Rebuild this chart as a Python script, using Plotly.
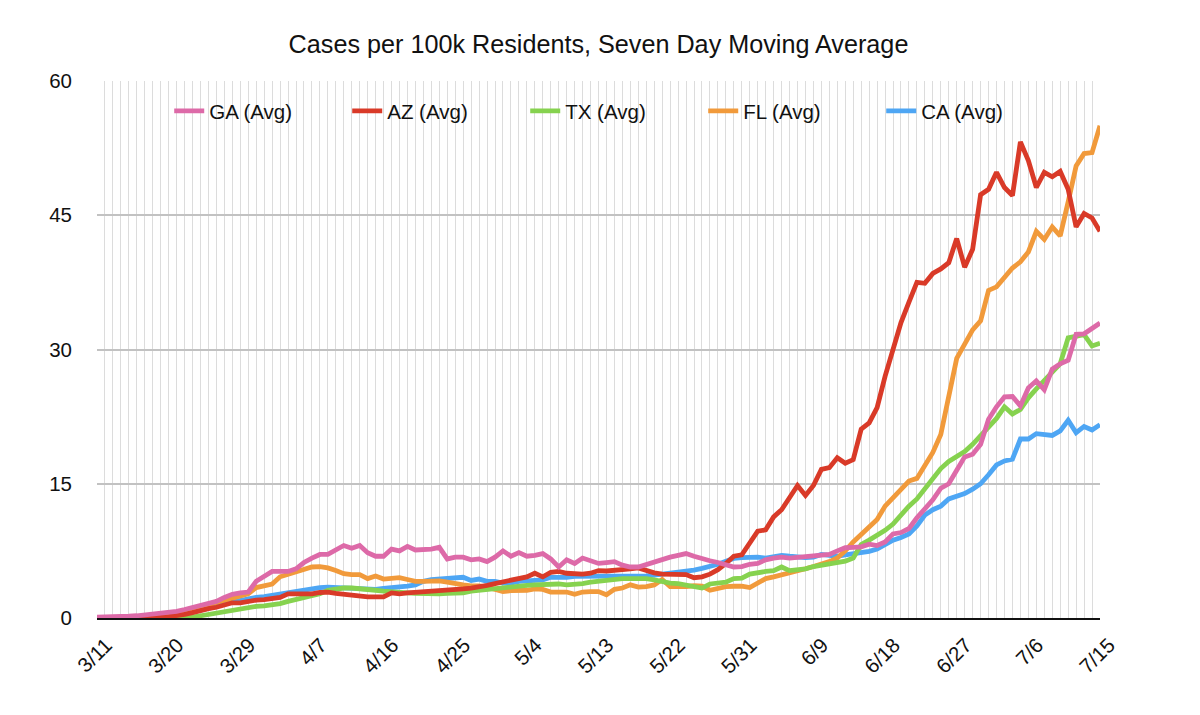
import plotly.graph_objects as go
import pandas as pd

dates = pd.date_range("2020-03-11", "2020-07-15", freq="D").strftime("%Y-%m-%d").tolist()

ga = [0.1, 0.1, 0.1, 0.15, 0.2, 0.25, 0.35, 0.45, 0.55, 0.6,
      0.75, 0.95, 1.15, 1.35, 1.6, 1.85, 2.3, 2.65, 2.8, 2.9,
      4.1, 4.7, 5.2, 5.2, 5.2, 5.5, 6.2, 6.7, 7.1, 7.1,
      7.6, 8.1, 7.8, 8.1, 7.3, 6.9, 6.9, 7.7, 7.5, 8.0,
      7.6, 7.6, 7.7, 7.9, 6.6, 6.8, 6.8, 6.5, 6.6, 6.3,
      6.8, 7.5, 6.9, 7.3, 6.9, 7.0, 7.2, 6.6, 5.7, 6.5,
      6.1, 6.7, 6.4, 6.1, 6.2, 6.3, 5.9, 5.7, 5.7, 6.0,
      6.2, 6.5, 6.8, 7.0, 7.2, 6.9, 6.6, 6.4, 6.2, 5.9,
      5.7, 5.75, 6.0, 6.1, 6.5, 6.7, 6.8, 6.7, 6.8, 6.85,
      6.95, 7.0, 7.1, 7.5, 7.85, 7.9, 7.95, 8.25, 8.1, 8.5,
      9.4, 9.55, 10.0, 11.2, 12.2, 13.2, 14.5, 15.0, 16.5, 18.0,
      18.3, 19.4, 22.2, 23.6, 24.7, 24.75, 23.7, 25.7, 26.5, 25.5,
      27.8, 28.4, 28.8, 31.7, 31.75, 32.3, 32.95]

az = [0, 0, 0, 0.02, 0.05, 0.05, 0.05, 0.08, 0.1, 0.15,
      0.25, 0.4, 0.6, 0.85, 1.05, 1.2, 1.5, 1.7, 1.7, 1.9,
      2.0, 2.05, 2.15, 2.3, 2.7, 2.7, 2.6, 2.7, 2.85, 2.9,
      2.75, 2.65, 2.5, 2.4, 2.35, 2.35, 2.35, 2.8, 2.7, 2.8,
      2.85, 2.9, 2.95, 3.05, 3.1, 3.15, 3.25, 3.35, 3.45, 3.65,
      3.85, 4.05, 4.2, 4.35, 4.6, 5.0, 4.6, 5.1, 5.2, 5.0,
      4.95, 4.9, 5.0, 5.3, 5.25, 5.3, 5.45, 5.5, 5.6, 5.3,
      5.05, 4.9, 4.85, 4.85, 4.85, 4.5, 4.6, 4.9, 5.4, 6.1,
      6.9, 7.05, 8.3, 9.7, 9.85, 11.3, 12.1, 13.4, 14.8, 13.7,
      14.8, 16.6, 16.8, 17.9, 17.3, 17.7, 21.1, 21.8, 23.5, 27.0,
      30.0, 33.0, 35.3, 37.5, 37.4, 38.5, 39.0, 39.7, 42.4, 39.2,
      41.2, 47.3, 47.9, 49.8, 48.1, 47.2, 53.2, 51.1, 48.1, 49.8,
      49.3, 49.9, 47.9, 43.7, 45.2, 44.7, 43.2]

tx = [0, 0, 0, 0, 0, 0, 0, 0, 0, 0,
      0, 0, 0.1, 0.25, 0.4, 0.55, 0.75, 0.9, 1.05, 1.15,
      1.3, 1.35, 1.45, 1.6, 1.85, 2.05, 2.2, 2.4, 2.7, 3.1,
      3.25, 3.35, 3.35, 3.3, 3.2, 3.1, 3.0, 2.9, 2.85, 2.8,
      2.75, 2.7, 2.7, 2.7, 2.75, 2.8, 2.8, 3.0, 3.1, 3.25,
      3.35, 3.45, 3.5, 3.6, 3.65, 3.7, 3.75, 3.8, 3.8, 3.7,
      3.75, 3.85, 4.0, 4.1, 4.25, 4.4, 4.4, 4.4, 4.4, 4.4,
      4.25, 4.05, 3.9, 3.85, 3.7, 3.55, 3.35, 3.8, 3.9, 4.0,
      4.4, 4.45, 4.9, 5.1, 5.2, 5.3, 5.7, 5.3, 5.4, 5.5,
      5.75, 5.9, 5.95, 6.15, 6.35, 6.7, 8.2, 8.7, 9.2, 9.8,
      10.5, 11.6, 12.5, 13.3, 14.4, 15.6, 16.7, 17.5, 18.1, 18.6,
      19.4, 20.4, 21.3, 22.3, 23.6, 22.8, 23.3, 24.6, 25.6, 26.5,
      27.4, 28.4, 31.3, 31.5, 31.65, 30.4, 30.7]

fl = [0, 0, 0, 0, 0.05, 0.1, 0.15, 0.2, 0.3, 0.4,
      0.55, 0.75, 0.95, 1.2, 1.5, 1.75, 2.0, 2.2, 2.4, 2.7,
      3.4, 3.6, 3.8, 4.6, 4.9, 5.2, 5.4, 5.7, 5.75, 5.6,
      5.3, 4.95, 4.85, 4.85, 4.4, 4.7, 4.35, 4.4, 4.5, 4.3,
      4.1, 4.1, 4.15, 4.15, 4.0, 3.8, 3.7, 3.6, 3.6, 3.45,
      3.2, 2.95, 3.05, 3.05, 3.1, 3.25, 3.2, 2.9, 2.85, 2.9,
      2.65, 2.9, 2.95, 2.95, 2.6, 3.2, 3.35, 3.7, 3.45, 3.5,
      3.7, 4.3, 3.5, 3.45, 3.5, 3.6, 3.55, 3.1, 3.35, 3.5,
      3.55, 3.55, 3.4, 3.9, 4.4, 4.6, 4.8, 5.0, 5.3, 5.5,
      5.75, 6.0, 6.3, 6.7, 7.5, 8.5, 9.3, 10.1, 11.0, 12.5,
      13.4, 14.3, 15.3, 15.6, 17.0, 18.5, 20.5, 24.6, 29.0, 30.6,
      32.2, 33.2, 36.6, 37.0, 38.1, 39.1, 39.8, 40.9, 43.2, 42.3,
      43.7, 42.7, 46.5, 50.5, 51.9, 52.0, 55.0]

ca = [0, 0, 0, 0.02, 0.05, 0.08, 0.1, 0.12, 0.15, 0.2,
      0.3, 0.45, 0.65, 0.9, 1.1, 1.3, 1.6, 1.8, 1.9, 2.1,
      2.3, 2.4, 2.55, 2.7, 2.85, 3.0, 3.15, 3.3, 3.4, 3.45,
      3.4, 3.35, 3.3, 3.25, 3.2, 3.2, 3.3, 3.35, 3.45, 3.55,
      3.7, 4.1, 4.3, 4.35, 4.45, 4.4, 4.55, 4.2, 4.35, 4.1,
      4.1, 3.9, 3.9, 4.1, 4.15, 4.3, 4.25, 4.55, 4.5, 4.55,
      4.65, 4.65, 4.65, 4.65, 4.65, 4.65, 4.65, 4.65, 4.65, 4.7,
      4.8, 4.9, 5.0, 5.05, 5.2, 5.35, 5.55, 5.75, 6.0, 6.35,
      6.65, 6.75, 6.8, 6.8, 6.7, 6.9, 7.0, 6.9, 6.8, 6.75,
      6.8, 7.1, 7.0, 6.9, 7.05, 7.15, 7.25, 7.45, 7.7, 8.2,
      8.7, 9.0, 9.4, 10.3, 11.5, 12.1, 12.5, 13.3, 13.55, 13.9,
      14.4, 15.0, 16.0, 17.1, 17.55, 17.75, 20.0, 20.0, 20.6, 20.5,
      20.4, 20.9, 22.1, 20.7, 21.4, 21.0, 21.6]

series = [
    ("CA (Avg)", ca, "#4ea6f4", 5),
    ("FL (Avg)", fl, "#f19a3b", 4),
    ("TX (Avg)", tx, "#86d24f", 3),
    ("AZ (Avg)", az, "#d93a28", 2),
    ("GA (Avg)", ga, "#dd6aa8", 1),
]

fig = go.Figure()
for name, vals, color, rank in series:
    fig.add_trace(go.Scatter(x=dates, y=vals, mode="lines", name=name,
                             line=dict(color=color, width=4.8),
                             legendrank=rank))

font_family = "Liberation Sans, Arial, Helvetica, sans-serif"

fig.update_layout(
    width=1200, height=715,
    margin=dict(l=89, r=108, t=73, b=105),
    paper_bgcolor="white", plot_bgcolor="white",
    font=dict(family=font_family, size=20.5, color="#111"),
    title=dict(text="Cases per 100k Residents, Seven Day Moving Average",
               x=0.5, xref="paper", xanchor="center", y=0.9497, yanchor="middle",
               font=dict(size=25.2, color="#111")),
    showlegend=True,
    legend=dict(orientation="h", x=0.072, y=0.944, xanchor="left", yanchor="middle",
                bgcolor="rgba(0,0,0,0)", font=dict(size=20.5),
                entrywidth=133, entrywidthmode="pixels", traceorder="normal"),
    xaxis=dict(
        type="date",
        range=["2020-03-11", "2020-07-15"],
        tick0="2020-03-11", dtick=9 * 86400000,
        tickformat="%-m/%-d", tickangle=-45,
        tickfont=dict(size=20.5),
        showgrid=True, gridcolor="#dcdcdc", gridwidth=1,
        minor=dict(dtick=86400000, tick0="2020-03-11", showgrid=True,
                   gridcolor="#dcdcdc", gridwidth=1),
        showline=True, linecolor="#111", linewidth=2,
        ticks="", ticklabelstandoff=5, ticklabelshift=9,
        zeroline=False, fixedrange=True,
    ),
    yaxis=dict(
        range=[0, 60], tickvals=[0, 15, 30, 45, 60],
        tickfont=dict(size=20.5),
        showgrid=True, gridcolor="#c2c2c2", gridwidth=2,
        zeroline=False, showline=False,
        ticks="", ticklabelstandoff=24,
    ),
)

fig.write_html("out.html")
